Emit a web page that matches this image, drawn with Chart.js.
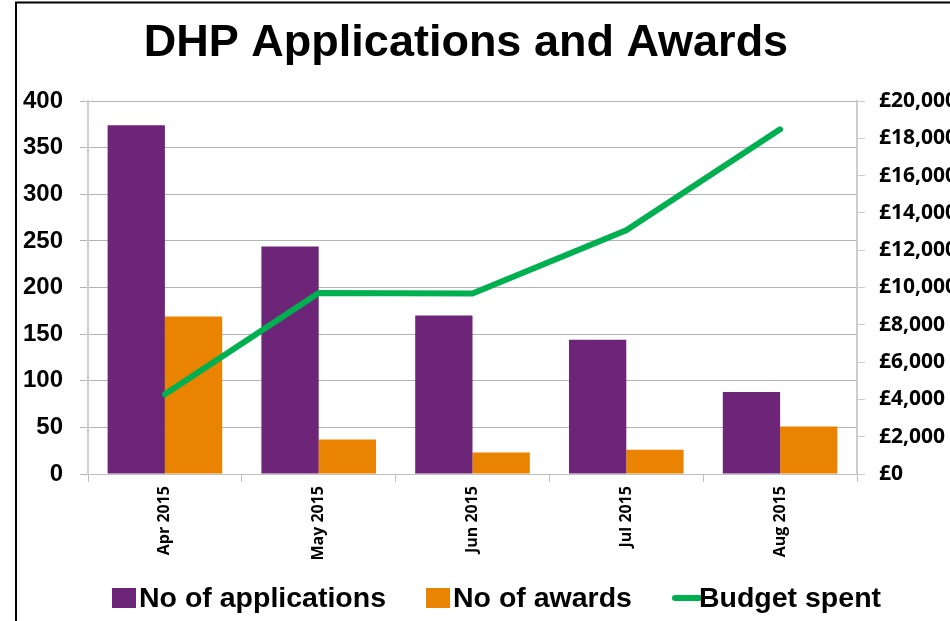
<!DOCTYPE html>
<html>
<head>
<meta charset="utf-8">
<title>DHP Applications and Awards</title>
<script src="https://cdn.jsdelivr.net/npm/chart.js@4.4.1/dist/chart.umd.min.js"></script>
<style>
  html, body { margin: 0; padding: 0; background: #fff; }
</style>
</head>
<body>
<canvas id="myChart" width="950" height="621"></canvas>
<script>
// chart data
const titleText = 'DHP Applications and Awards';
const months = ['Apr 2015', 'May 2015', 'Jun 2015', 'Jul 2015', 'Aug 2015'];
const applications = [374, 244, 170, 144, 88];
const awards = [169, 37, 23, 26, 51];
const budgetSpent = [4270, 9710, 9680, 13070, 18480];

const countMax = 400;
const countStep = 50;
const moneyMax = 20000;
const moneyStep = 2000;

const purple = '#6c2577';
const orange = '#e98300';
const green = '#00b050';

// title, legend and frame drawn on top of the chart
const extras = {
    id: 'extras',
    afterDraw(chart) {
        const ctx = chart.ctx;
        ctx.save();

        ctx.strokeStyle = '#000';
        ctx.lineWidth = 2;
        ctx.beginPath();
        ctx.moveTo(16, 621);
        ctx.lineTo(16, 2.5);
        ctx.lineTo(950, 2.5);
        ctx.stroke();

        ctx.fillStyle = '#000';
        ctx.font = 'bold 45px "Liberation Sans", Arial, sans-serif';
        ctx.textAlign = 'center';
        ctx.textBaseline = 'alphabetic';
        ctx.fillText(titleText, 466, 56);

        // legend
        ctx.font = 'bold 28.5px "Liberation Sans", Arial, sans-serif';
        ctx.textAlign = 'left';
        let x = 112;
        chart.data.datasets.forEach(ds => {
            if (ds.type === 'line') {
                ctx.strokeStyle = ds.borderColor;
                ctx.lineWidth = 6;
                ctx.lineCap = 'round';
                ctx.beginPath();
                ctx.moveTo(x + 3, 598);
                ctx.lineTo(x + 27, 598);
                ctx.stroke();
            } else {
                ctx.fillStyle = ds.backgroundColor;
                ctx.fillRect(x, 588, 24, 20);
            }
            ctx.fillStyle = '#000';
            ctx.fillText(ds.label, x + 27, 607);
            x += 27 + ctx.measureText(ds.label).width + 40;
        });

        ctx.restore();
    }
};

const ctx = document.getElementById('myChart').getContext('2d');

const myChart = new Chart(ctx, { // eslint-disable-line
    type: 'bar',
    data: {
        labels: months,
        datasets: [
            {
                label: 'No of applications',
                data: applications,
                backgroundColor: purple,
                yAxisID: 'y',
                order: 1
            },
            {
                label: 'No of awards',
                data: awards,
                backgroundColor: orange,
                yAxisID: 'y',
                order: 1
            },
            {
                type: 'line',
                label: 'Budget spent',
                data: budgetSpent,
                borderColor: green,
                backgroundColor: green,
                borderWidth: 6,
                borderCapStyle: 'round',
                borderJoinStyle: 'round',
                pointRadius: 0,
                tension: 0,
                yAxisID: 'y1',
                order: 0
            }
        ]
    },
    options: {
        responsive: false,
        animation: false,
        categoryPercentage: 0.745,
        barPercentage: 1.0,
        layout: {
            padding: { top: 101, bottom: 57, left: 0, right: 0 }
        },
        plugins: {
            legend: { display: false },
            title: { display: false },
            tooltip: { enabled: false }
        },
        scales: {
            x: {
                offset: true,
                grid: {
                    drawOnChartArea: false,
                    tickLength: 8,
                    color: '#bfbfbf',
                    offset: true
                },
                border: { color: '#bfbfbf', width: 1 },
                ticks: {
                    minRotation: 90,
                    maxRotation: 90,
                    padding: 4,
                    color: '#000',
                    font: { family: '"Open Sans", sans-serif', size: 16, weight: 'bold' }
                },
                afterFit: s => { s.height = 90; }
            },
            y: {
                position: 'left',
                min: 0,
                max: countMax,
                grid: { color: '#b3b3b3', tickLength: 8 },
                border: { color: '#d0d0d0', width: 2 },
                ticks: {
                    stepSize: countStep,
                    padding: 17,
                    color: '#000',
                    font: { family: '"Liberation Sans", Arial, sans-serif', size: 24, weight: 'bold' }
                },
                afterFit: s => { s.width = 88; }
            },
            y1: {
                position: 'right',
                min: 0,
                max: moneyMax,
                grid: { drawOnChartArea: false, tickLength: 8, color: '#cccccc' },
                border: { color: '#cccccc', width: 2 },
                ticks: {
                    stepSize: moneyStep,
                    padding: 14,
                    color: '#000',
                    font: { family: '"Open Sans", sans-serif', size: 21, weight: 'bold' },
                    callback: v => '£' + v.toLocaleString('en-GB')
                },
                afterFit: s => { s.width = 93; }
            }
        }
    },
    plugins: [extras]
});
</script>
</body>
</html>
